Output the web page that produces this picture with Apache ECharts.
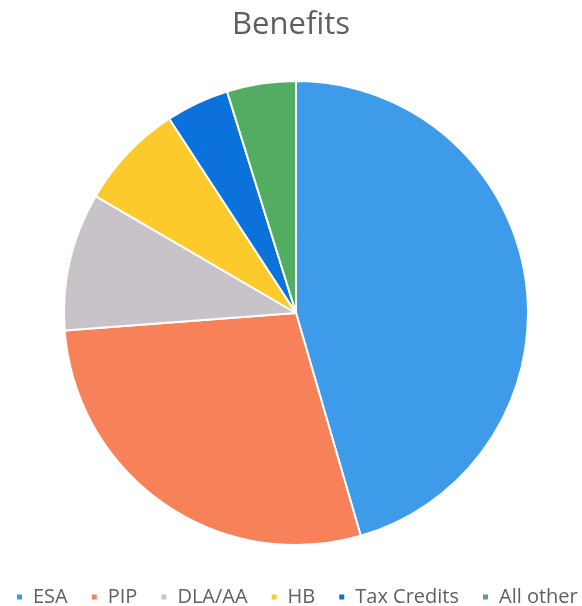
<!DOCTYPE html>
<html>
<head>
<meta charset="utf-8">
<script src="https://cdn.jsdelivr.net/npm/echarts@6/dist/echarts.min.js"></script>
<style>
  html, body { margin: 0; padding: 0; background: #fff; }
  #chart { width: 582px; height: 606px; }
</style>
</head>
<body>
<div id="chart"></div>
<script>
const categories = ['ESA', 'PIP', 'DLA/AA', 'HB', 'Tax Credits', 'All other']
const values = [45.5, 28.3, 9.6, 7.4, 4.4, 4.8]
const colors = ['#3d9bea', '#f7825a', '#c8c3c9', '#fdca2c', '#0c72db', '#52ad63']

const chart = echarts.init(document.getElementById('chart'))

const option = {
  title: {
    text: 'Benefits',
    left: 'center',
    top: 5,
    textStyle: {
      fontFamily: 'Open Sans',
      fontSize: 31,
      fontWeight: 'normal',
      color: '#5f5f5f'
    }
  },
  legend: {
    bottom: -1,
    left: 15,
    width: 600,
    padding: 0,
    icon: 'rect',
    itemWidth: 7,
    itemHeight: 7,
    itemGap: 22,
    textStyle: {
      fontFamily: 'Open Sans',
      fontSize: 20,
      color: '#5f5f5f',
      padding: [0, 0, 0, 5]
    },
    data: categories
  },
  series: [{
    type: 'pie',
    center: [296, 313],
    radius: 232,
    startAngle: 90,
    clockwise: true,
    label: { show: false },
    labelLine: { show: false },
    itemStyle: {
      borderColor: '#fff',
      borderWidth: 2
    },
    data: categories.map((name, i) => ({
      name,
      value: values[i],
      itemStyle: { color: colors[i] }
    }))
  }]
}

chart.setOption(option)
</script>
</body>
</html>
